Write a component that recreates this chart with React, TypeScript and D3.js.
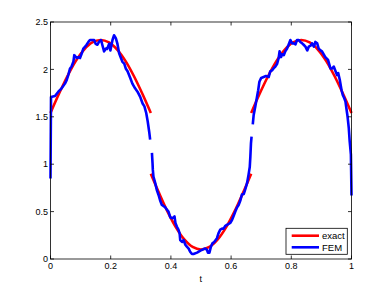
import React from "react";
import * as d3 from "d3";

const W = 388;
const H = 291;

const xTicks = [0, 0.2, 0.4, 0.6, 0.8, 1];
const xTickLabels = ["0", "0.2", "0.4", "0.6", "0.8", "1"];
const yTicks = [0, 0.5, 1, 1.5, 2, 2.5];
const yTickLabels = ["0", "0.5", "1", "1.5", "2", "2.5"];

// exact solution (three pieces)
const tExact1 = [0, 0.0278, 0.0556, 0.0833, 0.1111, 0.1389, 0.1667, 0.1944, 0.2222, 0.25, 0.2778, 0.3056, 0.3333];
const exact1 = [1.54, 1.74, 1.925, 2.085, 2.207, 2.284, 2.31, 2.284, 2.207, 2.085, 1.925, 1.74, 1.54];
const tExact2 = [0.3333, 0.3611, 0.3889, 0.4167, 0.4444, 0.4722, 0.5, 0.5278, 0.5556, 0.5833, 0.6111, 0.6389, 0.6667];
const exact2 = [0.9, 0.693, 0.5, 0.334, 0.207, 0.127, 0.1, 0.127, 0.207, 0.334, 0.5, 0.693, 0.9];
const tExact3 = [0.6667, 0.6944, 0.7222, 0.75, 0.7778, 0.8056, 0.8333, 0.8611, 0.8889, 0.9167, 0.9444, 0.9722, 1];
const exact3 = [1.54, 1.74, 1.925, 2.085, 2.207, 2.284, 2.31, 2.284, 2.207, 2.085, 1.925, 1.74, 1.54];

// FEM solution (three pieces)
const tFem1 = [0, 0.0017, 0.015, 0.026, 0.037, 0.048, 0.054, 0.059, 0.065, 0.07, 0.076, 0.079, 0.087, 0.093, 0.098, 0.104, 0.109, 0.115, 0.12, 0.126, 0.131, 0.137, 0.145, 0.15, 0.156, 0.161, 0.168, 0.172, 0.178, 0.184, 0.188, 0.195, 0.199, 0.206, 0.211, 0.217, 0.222, 0.228, 0.234, 0.239, 0.245, 0.25, 0.256, 0.265, 0.272, 0.281, 0.289, 0.298, 0.306, 0.312, 0.318, 0.323, 0.328, 0.331];
const fem1 = [0.85, 1.71, 1.72, 1.765, 1.8, 1.85, 1.89, 1.94, 2.01, 2.03, 2.08, 2.15, 2.12, 2.13, 2.12, 2.17, 2.22, 2.24, 2.26, 2.29, 2.31, 2.31, 2.31, 2.27, 2.26, 2.29, 2.31, 2.26, 2.19, 2.22, 2.215, 2.27, 2.2, 2.31, 2.36, 2.33, 2.275, 2.17, 2.12, 2.08, 2.06, 2.01, 1.98, 1.91, 1.85, 1.8, 1.765, 1.71, 1.64, 1.61, 1.54, 1.45, 1.34, 1.26];
const tFem2 = [0.337, 0.339, 0.34, 0.342, 0.348, 0.353, 0.359, 0.364, 0.37, 0.375, 0.381, 0.387, 0.392, 0.398, 0.403, 0.409, 0.412, 0.415, 0.42, 0.425, 0.429, 0.431, 0.437, 0.442, 0.448, 0.453, 0.459, 0.464, 0.47, 0.475, 0.487, 0.498, 0.509, 0.514, 0.52, 0.523, 0.528, 0.533, 0.538, 0.544, 0.553, 0.558, 0.564, 0.57, 0.575, 0.581, 0.586, 0.592, 0.597, 0.603, 0.608, 0.614, 0.62, 0.625, 0.631, 0.636, 0.642, 0.647, 0.653, 0.658, 0.662, 0.664, 0.666, 0.668];
const fem2 = [1.12, 1.01, 0.94, 0.87, 0.8, 0.73, 0.675, 0.62, 0.57, 0.56, 0.545, 0.52, 0.5, 0.44, 0.43, 0.44, 0.45, 0.38, 0.34, 0.31, 0.27, 0.2, 0.18, 0.2, 0.15, 0.13, 0.11, 0.077, 0.053, 0.053, 0.067, 0.088, 0.105, 0.11, 0.095, 0.067, 0.067, 0.13, 0.165, 0.18, 0.22, 0.27, 0.31, 0.32, 0.32, 0.35, 0.36, 0.37, 0.38, 0.41, 0.45, 0.5, 0.545, 0.57, 0.62, 0.68, 0.685, 0.735, 0.8, 0.89, 0.97, 1.08, 1.22, 1.29];
const tFem3 = [0.672, 0.675, 0.681, 0.686, 0.69, 0.694, 0.7, 0.708, 0.716, 0.725, 0.73, 0.736, 0.741, 0.747, 0.753, 0.758, 0.761, 0.766, 0.769, 0.775, 0.78, 0.786, 0.791, 0.797, 0.803, 0.808, 0.814, 0.819, 0.825, 0.83, 0.836, 0.841, 0.847, 0.853, 0.858, 0.864, 0.869, 0.875, 0.88, 0.886, 0.891, 0.897, 0.902, 0.913, 0.922, 0.93, 0.936, 0.941, 0.947, 0.952, 0.956, 0.961, 0.967, 0.971, 0.976, 0.98, 0.983, 0.987, 0.991, 0.994, 0.998, 1.0];
const fem3 = [1.42, 1.52, 1.62, 1.71, 1.78, 1.87, 1.91, 1.92, 1.93, 1.92, 1.98, 1.99, 2.01, 2.03, 2.06, 2.12, 2.19, 2.13, 2.16, 2.15, 2.19, 2.22, 2.26, 2.31, 2.275, 2.275, 2.265, 2.31, 2.31, 2.29, 2.275, 2.26, 2.24, 2.2, 2.24, 2.25, 2.275, 2.24, 2.29, 2.275, 2.22, 2.2, 2.19, 2.13, 2.1, 2.01, 2.01, 2.03, 1.98, 1.94, 1.96, 1.89, 1.78, 1.73, 1.695, 1.66, 1.59, 1.5, 1.38, 1.24, 1.1, 0.67];

const seriesNames = ["exact", "FEM"];
const seriesColors = ["#ff0000", "#0000ff"];

export default function App() {
  const left = 50.5, right = 351.5, top = 22, bottom = 259;
  const x = d3.scaleLinear().domain([0, 1]).range([left, right]);
  const y = d3.scaleLinear().domain([0, 2.5]).range([bottom, top]);

  const smooth = d3.line<[number, number]>().x(d => x(d[0])).y(d => y(d[1])).curve(d3.curveCatmullRom);
  const straight = d3.line<[number, number]>().x(d => x(d[0])).y(d => y(d[1]));
  const zip = (a: number[], b: number[]) => a.map((v, i) => [v, b[i]] as [number, number]);

  const exactPieces = [zip(tExact1, exact1), zip(tExact2, exact2), zip(tExact3, exact3)];
  const femPieces = [zip(tFem1, fem1), zip(tFem2, fem2), zip(tFem3, fem3)];

  const font = "'Liberation Sans', Arial, Helvetica, sans-serif";
  const tl = 3.5;

  return (
    <svg width={W} height={H} style={{ position: "absolute", left: 0, top: 0, background: "#fff" }}>
      <rect x={0} y={0} width={W} height={H} fill="#fff" />
      <g>
        {exactPieces.map((p, i) => (
          <path key={"e" + i} d={smooth(p) || ""} fill="none" stroke={seriesColors[0]} strokeWidth={2.6} strokeLinejoin="round" />
        ))}
        {femPieces.map((p, i) => (
          <path key={"f" + i} d={straight(p) || ""} fill="none" stroke={seriesColors[1]} strokeWidth={2.6} strokeLinejoin="round" />
        ))}
      </g>
      {/* axes box */}
      <rect x={left} y={top} width={right - left} height={bottom - top} fill="none" stroke="#000" strokeWidth={0.8} />
      {xTicks.map((t, i) => (
        <g key={"xt" + i}>
          <line x1={x(t)} x2={x(t)} y1={bottom} y2={bottom - tl} stroke="#000" strokeWidth={0.8} />
          <line x1={x(t)} x2={x(t)} y1={top} y2={top + tl} stroke="#000" strokeWidth={0.8} />
          <text x={x(t)} y={269.3} textAnchor="middle" fontSize={9} fontFamily={font} fill="#000">{xTickLabels[i]}</text>
        </g>
      ))}
      {yTicks.map((t, i) => (
        <g key={"yt" + i}>
          <line x1={left} x2={left + tl} y1={y(t)} y2={y(t)} stroke="#000" strokeWidth={0.8} />
          <line x1={right} x2={right - tl} y1={y(t)} y2={y(t)} stroke="#000" strokeWidth={0.8} />
          <text x={48} y={y(t) + 3.2} textAnchor="end" fontSize={9} fontFamily={font} fill="#000">{yTickLabels[i]}</text>
        </g>
      ))}
      <text x={200.7} y={281.5} textAnchor="middle" fontSize={9} fontFamily={font} fill="#000">t</text>
      {/* legend */}
      <rect x={286} y={228.3} width={61.3} height={26} fill="#fff" stroke="#000" strokeWidth={0.8} />
      {seriesNames.map((n, i) => (
        <g key={"lg" + i}>
          <line x1={291.7} x2={319} y1={235.7 + i * 11.6} y2={235.7 + i * 11.6} stroke={seriesColors[i]} strokeWidth={2.6} />
          <text x={322} y={239.3 + i * 11.4} fontSize={9.5} fontFamily={font} fill="#000">{n}</text>
        </g>
      ))}
    </svg>
  );
}
